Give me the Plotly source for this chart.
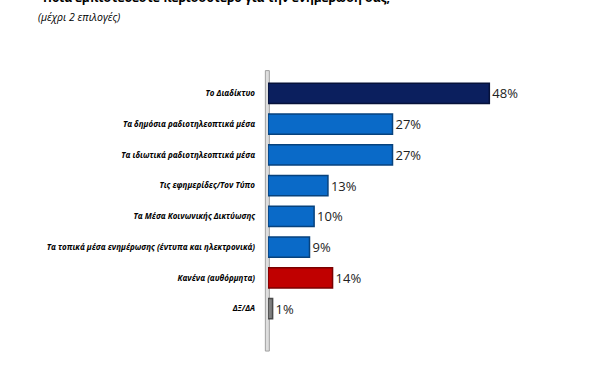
import plotly.graph_objects as go

categories = [
    "Το Διαδίκτυο",
    "Τα δημόσια ραδιοτηλεοπτικά μέσα",
    "Τα ιδιωτικά ραδιοτηλεοπτικά μέσα",
    "Τις εφημερίδες/Τον Τύπο",
    "Τα Μέσα Κοινωνικής Δικτύωσης",
    "Τα τοπικά μέσα ενημέρωσης (έντυπα και ηλεκτρονικά)",
    "Κανένα (αυθόρμητα)",
    "ΔΞ/ΔΑ",
]
values = [48, 27, 27, 13, 10, 9, 14, 1]
value_labels = ["48%", "27%", "27%", "13%", "10%", "9%", "14%", "1%"]
bar_colors = ["#0b1f5e", "#0a6ac8", "#0a6ac8", "#0a6ac8", "#0a6ac8", "#0a6ac8", "#c00000", "#7f7f7f"]
edge_colors = ["#06123a", "#07427d", "#07427d", "#07427d", "#07427d", "#07427d", "#7a0000", "#4a4a4a"]

title_text = "Ποια εμπιστεύεστε περισσότερο για την ενημέρωσή σας;"
subtitle_text = "(μέχρι 2 επιλογές)"

fig = go.Figure()
fig.add_trace(go.Bar(
    y=categories,
    x=values,
    orientation="h",
    marker=dict(color=bar_colors, line=dict(color=edge_colors, width=1.5)),
    width=0.66,
    text=value_labels,
    textposition="outside",
    textfont=dict(family="Open Sans", size=13, color="#222222"),
    cliponaxis=False,
    hoverinfo="skip",
))

# 3D-like back wall along the category axis
fig.add_shape(type="rect", xref="paper", yref="paper",
              x0=-0.008, x1=0.004, y0=-0.11, y1=1.03,
              fillcolor="#dedede", line=dict(color="#a0a0a0", width=1), layer="below")

fig.update_layout(
    width=600, height=375,
    paper_bgcolor="white", plot_bgcolor="white",
    margin=dict(l=268, r=0, t=78, b=51),
    showlegend=False,
    font=dict(family="Open Sans", color="#000000"),
    xaxis=dict(range=[0, 72], visible=False),
    yaxis=dict(
        autorange=False, range=[7.5, -0.5],
        showgrid=False, showline=False, zeroline=False,
        ticks="", ticklabelstandoff=12,
        tickfont=dict(family="Open Sans", size=8, color="#000000", weight="bold", style="italic"),
    ),
    bargap=0.3,
)

fig.add_annotation(text="<b>" + title_text + "</b>", xref="paper", yref="paper",
                   x=-0.155, y=1.328, xanchor="center", yanchor="middle",
                   showarrow=False, font=dict(family="Open Sans", size=12, color="#000000"))
fig.add_annotation(text="<i>" + subtitle_text + "</i>", xref="paper", yref="paper",
                   x=-0.70, y=1.248, xanchor="left", yanchor="middle",
                   showarrow=False, font=dict(family="Open Sans", size=10.5, color="#000000"))

fig.write_html("out.html", config={"displayModeBar": False},
               post_script="document.body.style.margin='0';")
